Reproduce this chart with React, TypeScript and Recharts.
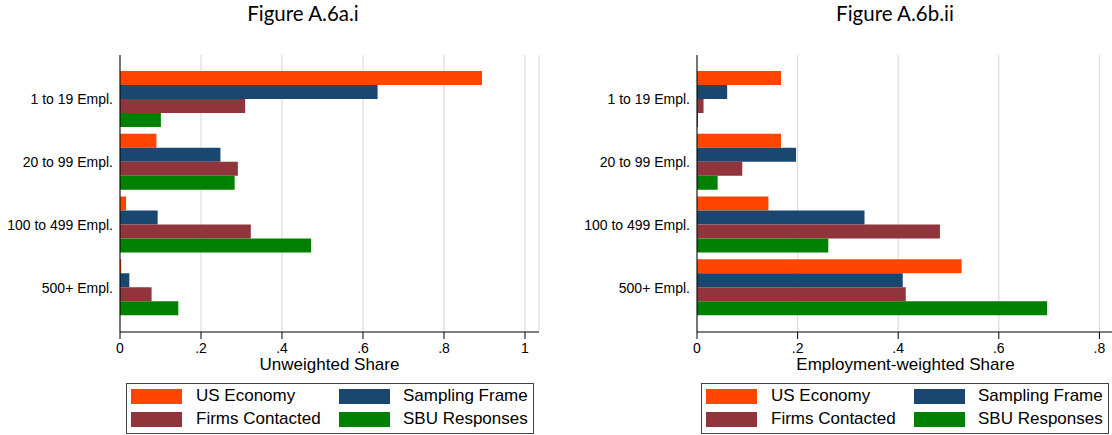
import React from "react";
import { Bar, BarChart, CartesianGrid, XAxis, YAxis } from "recharts";

// size classes, top to bottom
const categories = ["1 to 19 Empl.", "20 to 99 Empl.", "100 to 499 Empl.", "500+ Empl."];

const seriesNames = ["US Economy", "Sampling Frame", "Firms Contacted", "SBU Responses"];
const seriesColors = ["#FF4500", "#1A476F", "#90353B", "#008000"];

// Figure A.6a.i - unweighted share
const usEconomyA = [0.894, 0.09, 0.015, 0.003];
const samplingFrameA = [0.636, 0.248, 0.093, 0.023];
const firmsContactedA = [0.309, 0.291, 0.323, 0.078];
const sbuResponsesA = [0.101, 0.283, 0.472, 0.144];

// Figure A.6b.ii - employment-weighted share
const usEconomyB = [0.167, 0.167, 0.142, 0.526];
const samplingFrameB = [0.06, 0.197, 0.333, 0.409];
const firmsContactedB = [0.013, 0.09, 0.483, 0.415];
const sbuResponsesB = [0.002, 0.041, 0.261, 0.696];

const ticksA = [0, 0.2, 0.4, 0.6, 0.8, 1];
const ticksB = [0, 0.2, 0.4, 0.6, 0.8];

const keys = ["us", "frame", "contacted", "sbu"];

const buildRows = (cols: number[][]) =>
  categories.map((name, i) => ({
    name,
    us: cols[0][i],
    frame: cols[1][i],
    contacted: cols[2][i],
    sbu: cols[3][i],
  }));

const fmt = (v: number) => (v === 0 ? "0" : v === 1 ? "1" : String(v).replace(/^0/, ""));

const FONT = "'Liberation Sans', Arial, Helvetica, sans-serif";

type PanelProps = {
  left: number;
  title: string;
  titleX: number;
  axisTitle: string;
  rows: any[];
  ticks: number[];
  max: number;
  rightMargin: number;
  legendLeft: number;
};

function Legend({ left }: { left: number }) {
  const cols = [
    [0, 2],
    [1, 3],
  ];
  return (
    <div
      style={{
        position: "absolute",
        left,
        top: 383,
        width: 408,
        height: 51,
        border: "1px solid #444",
        boxSizing: "border-box",
        fontFamily: FONT,
        fontSize: 17,
        color: "#000",
      }}
    >
      {cols.map((col, c) =>
        col.map((s, r) => (
          <React.Fragment key={s}>
            <div
              style={{
                position: "absolute",
                left: 4 + c * 208,
                top: 5 + r * 23,
                width: 51,
                height: 15,
                background: seriesColors[s],
              }}
            />
            <div
              style={{
                position: "absolute",
                left: 69 + c * 207,
                top: 2 + r * 23,
                lineHeight: "20px",
                whiteSpace: "nowrap",
              }}
            >
              {seriesNames[s]}
            </div>
          </React.Fragment>
        ))
      )}
    </div>
  );
}

function Panel(p: PanelProps) {
  return (
    <>
      <div
        style={{
          position: "absolute",
          left: p.titleX - 100,
          width: 200,
          top: 1,
          textAlign: "center",
          fontFamily: "Lato, sans-serif",
          fontSize: 20.5,
          color: "#000",
        }}
      >
        {p.title}
      </div>
      <div style={{ position: "absolute", left: p.left, top: 0 }}>
        <BarChart
          width={560}
          height={380}
          data={p.rows}
          layout="vertical"
          margin={{ top: 55, right: p.rightMargin, left: 0, bottom: 0 }}
          barGap={0}
          barSize={14}
        >
          <CartesianGrid horizontal={false} stroke="#dcdcdc" strokeWidth={1.2} />
          <XAxis
            type="number"
            domain={[0, p.max]}
            ticks={p.ticks}
            tickFormatter={fmt}
            height={48}
            tickSize={7}
            tickMargin={4}
            stroke="#000"
            tick={{ fill: "#000", fontSize: 14, fontFamily: FONT }}
            label={{
              value: p.axisTitle,
              position: "insideBottom",
              offset: 10,
              fill: "#000",
              fontSize: 17,
              fontFamily: FONT,
            }}
          />
          {/* top and right frame lines of the plot region */}
          <XAxis
            xAxisId="top"
            orientation="top"
            type="number"
            domain={[0, p.max]}
            height={0}
            tick={false}
            tickLine={false}
            stroke="#444"
          />
          <YAxis
            type="category"
            dataKey="name"
            width={120}
            tickLine={false}
            tickSize={0}
            tickMargin={7}
            padding={{ top: 13, bottom: 13 }}
            stroke="#000"
            tick={{ fill: "#000", fontSize: 14, fontFamily: FONT }}
          />
          <YAxis
            yAxisId="right"
            orientation="right"
            type="category"
            dataKey="name"
            width={0}
            tick={false}
            tickLine={false}
            stroke="#444"
          />
          {keys.map((k, i) => (
            <Bar key={k} dataKey={k} name={seriesNames[i]} fill={seriesColors[i]} isAnimationActive={false} />
          ))}
        </BarChart>
      </div>
      <Legend left={p.legendLeft} />
    </>
  );
}

export default function App() {
  const rowsA = buildRows([usEconomyA, samplingFrameA, firmsContactedA, sbuResponsesA]);
  const rowsB = buildRows([usEconomyB, samplingFrameB, firmsContactedB, sbuResponsesB]);
  return (
    <div
      style={{
        position: "absolute",
        left: 0,
        top: 0,
        width: 1112,
        height: 435,
        overflow: "hidden",
        background: "#fff",
      }}
    >
      <Panel
        left={0}
        title="Figure A.6a.i"
        titleX={303}
        axisTitle="Unweighted Share"
        rows={rowsA}
        ticks={ticksA}
        max={1.0346}
        rightMargin={21}
        legendLeft={126}
      />
      <Panel
        left={577}
        title="Figure A.6b.ii"
        titleX={895}
        axisTitle="Employment-weighted Share"
        rows={rowsB}
        ticks={ticksB}
        max={0.829}
        rightMargin={23}
        legendLeft={701}
      />
    </div>
  );
}
